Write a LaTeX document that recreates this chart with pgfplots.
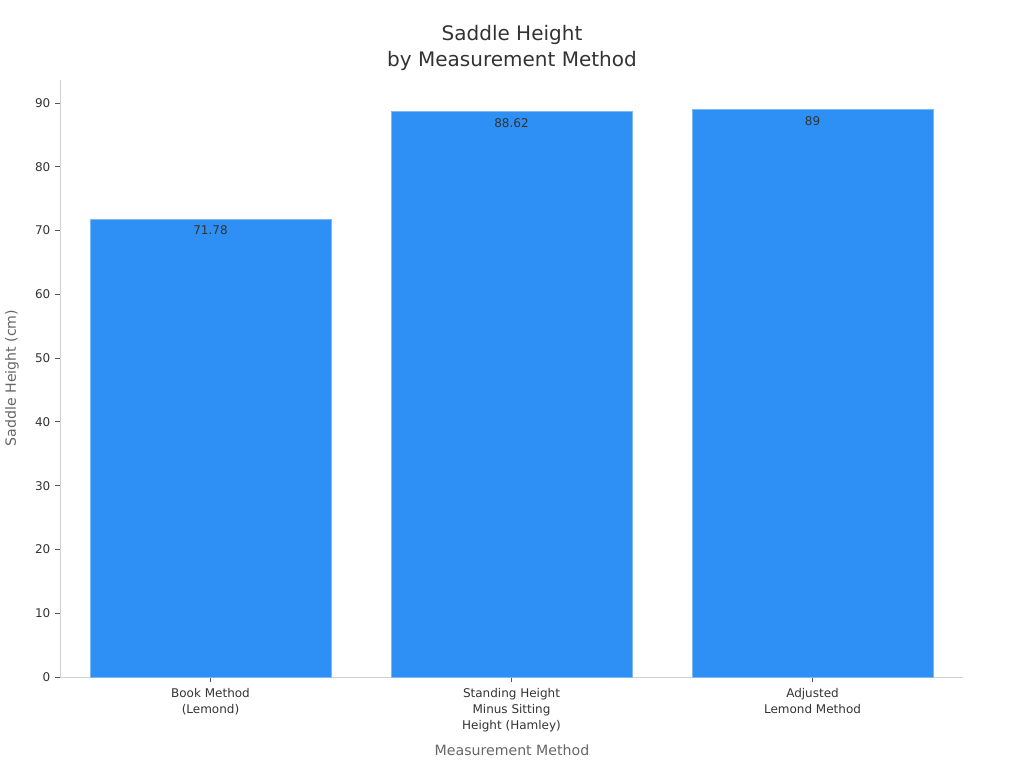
\documentclass[border=0pt]{standalone}
\usepackage{fontspec}
\setmainfont{DejaVu Sans}
\usepackage{pgfplots}
\pgfplotsset{compat=1.18}
\definecolor{barblue}{HTML}{2E90F5}
\definecolor{baredge}{HTML}{7DB8F2}
\definecolor{txt}{HTML}{333333}
\definecolor{lbl}{HTML}{666666}
\definecolor{spine}{HTML}{D0D0D0}
\definecolor{tickc}{HTML}{555555}
\begin{document}
\begin{tikzpicture}
\useasboundingbox (0,0) rectangle (768pt,-576pt);
\begin{axis}[
    at={(45pt,-60pt)}, anchor=north west,
    scale only axis,
    width=677.25pt, height=447.75pt,
    ybar, bar width=0.8,
    xmin=-0.5, xmax=2.5,
    ymin=0, ymax=93.6,
    axis x line*=bottom, axis y line*=left,
    axis line style={draw=spine, line width=0.75pt, -},
    xtick={0,1,2},
    xticklabels={{Book Method\\(Lemond)},{Standing Height\\Minus Sitting\\Height (Hamley)},{Adjusted\\Lemond Method}},
    ytick={0,10,...,90},
    tick align=outside,
    major tick length=3.75pt,
    tick style={draw=tickc, line width=0.6pt},
    x tick label style={font=\fontsize{9}{12}\selectfont, text=txt, align=center, yshift=-1pt},
    y tick label style={font=\fontsize{9}{11}\selectfont, text=txt},
    /pgf/number format/assume math mode=true,
    point meta=explicit symbolic,
    nodes near coords,
    nodes near coords style={font=\fontsize{9}{11}\selectfont, text=txt, anchor=north, yshift=-1.5pt},
    clip=false,
]
\addplot[fill=barblue, draw=baredge, line width=0.6pt] coordinates {
    (0,71.78) [71.78]
    (1,88.62) [88.62]
    (2,89) [89]
};
\end{axis}
\node[font=\fontsize{15}{19.5}\selectfont, text=txt, align=center] at (384pt,-36pt) {Saddle Height\\by Measurement Method};
\node[font=\fontsize{10.6}{12}\selectfont, text=lbl, rotate=90] at (9pt,-283.5pt) {Saddle Height (cm)};
\node[font=\fontsize{10.6}{12}\selectfont, text=lbl] at (384pt,-562.5pt) {Measurement Method};
\end{tikzpicture}
\end{document}
